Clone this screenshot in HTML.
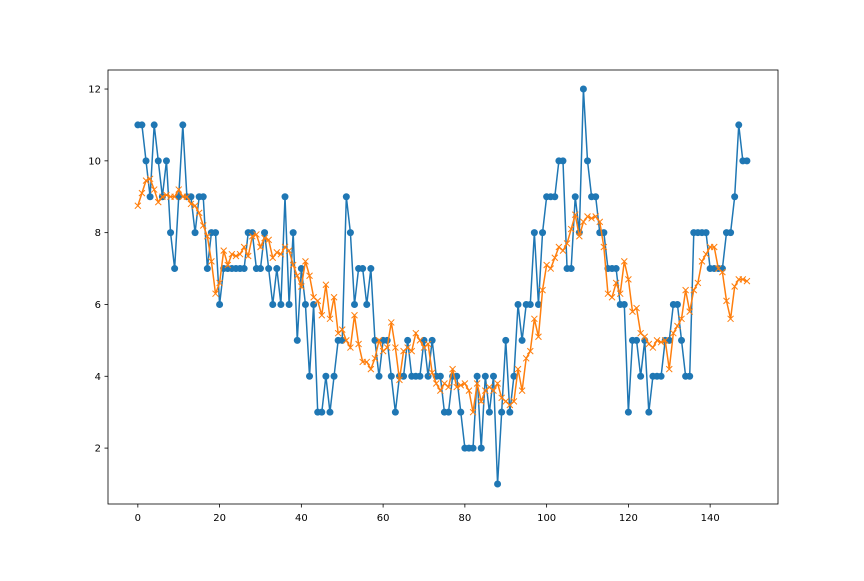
<!DOCTYPE html>
<html><head><meta charset="utf-8"><style>body{margin:0;background:#fff}svg text{font-family:"DejaVu Sans","Liberation Sans",sans-serif;font-size:10px;fill:#000}</style></head>
<body>
<svg id="chart" width="864" height="576" xmlns="http://www.w3.org/2000/svg">
<rect width="864" height="576" fill="#fff"/>
<g id="plot"></g>
</svg>
<script>
const seriesA=[11,11,10,9,11,10,9,10,8,7,9,11,9,9,8,9,9,7,8,8,6,7,7,7,7,7,7,8,8,7,7,8,7,6,7,6,9,6,8,5,7,6,4,6,3,3,4,3,4,5,5,9,8,6,7,7,6,7,5,4,5,5,4,3,4,4,5,4,4,4,5,4,5,4,4,3,3,4,4,3,2,2,2,4,2,4,3,4,1,3,5,3,4,6,5,6,6,8,6,8,9,9,9,10,10,7,7,9,8,12,10,9,9,8,8,7,7,7,6,6,3,5,5,4,5,3,4,4,4,5,5,6,6,5,4,4,8,8,8,8,7,7,7,7,8,8,9,11,10,10];
const seriesB=[8.75,9.1,9.45,9.5,9.2,8.85,9.0,9.05,9.0,9.0,9.2,9.0,9.0,8.8,8.75,8.55,8.2,7.9,7.2,6.3,6.6,7.5,7.1,7.4,7.35,7.4,7.6,7.35,7.9,7.95,7.6,7.85,7.8,7.3,7.45,7.4,7.6,7.5,7.1,6.8,6.5,7.2,6.8,6.2,6.1,5.7,6.55,5.6,6.2,5.2,5.3,5.0,4.8,5.7,4.9,4.4,4.4,4.2,4.5,5.0,4.7,4.8,5.5,4.8,3.9,4.7,4.8,4.7,5.2,5.0,4.8,4.9,4.1,3.8,3.6,3.8,3.7,4.2,3.7,3.75,3.8,3.6,3.0,3.8,3.3,3.6,3.7,3.6,3.8,3.4,3.3,3.2,3.3,4.2,3.6,4.5,4.7,5.6,5.1,6.4,7.1,7.0,7.3,7.6,7.5,7.7,8.1,8.5,7.9,8.3,8.45,8.4,8.45,8.3,7.6,6.3,6.2,6.6,6.3,7.2,6.7,5.8,5.9,5.2,5.1,4.9,4.8,5.0,4.95,5.0,4.2,5.2,5.4,5.6,6.4,5.8,6.4,6.6,7.2,7.4,7.6,7.6,7.0,6.9,6.1,5.6,6.5,6.7,6.7,6.65];
const xTicks=[0,20,40,60,80,100,120,140];
const yTicks=[2,4,6,8,10,12];
const L=108,R=778,T=70,B=504;
const x0=-7.3,x1=156.6,y0=0.443,y1=12.53;
const sx=v=>L+(v-x0)/(x1-x0)*(R-L);
const sy=v=>B-(v-y0)/(y1-y0)*(B-T);
const NS='http://www.w3.org/2000/svg';
const g=document.getElementById('plot');
function mk(t,a){const e=document.createElementNS(NS,t);for(const k in a)e.setAttribute(k,a[k]);g.appendChild(e);return e;}
let ax=mk('rect',{x:L,y:T,width:R-L,height:B-T,fill:'none',stroke:'#000','stroke-width':0.8});


xTicks.forEach(v=>{const l=mk('line',{x1:sx(v),x2:sx(v),y1:B,y2:B+3.5,stroke:'#000','stroke-width':0.8});


const t=mk('text',{x:sx(v),y:B+17,'text-anchor':'middle'});t.textContent=v;

});
yTicks.forEach(v=>{const l=mk('line',{x1:L-3.5,x2:L,y1:sy(v),y2:sy(v),stroke:'#000','stroke-width':0.8});


const t=mk('text',{x:L-7,y:sy(v)+3.5,'text-anchor':'end'});t.textContent=v;

});
const pa=seriesA.map((v,i)=>sx(i)+','+sy(v)).join(' ');
let la=mk('polyline',{points:pa,fill:'none',stroke:'#1f77b4','stroke-width':1.5});


seriesA.forEach((v,i)=>{const c=mk('circle',{cx:sx(i),cy:sy(v),r:3.5,fill:'#1f77b4'});

});
const pb=seriesB.map((v,i)=>sx(i)+','+sy(v)).join(' ');
let lb=mk('polyline',{points:pb,fill:'none',stroke:'#ff7f0e','stroke-width':1.5});


seriesB.forEach((v,i)=>{const X=sx(i),Y=sy(v),d=3;const p=mk('path',{d:`M${X-d},${Y-d}L${X+d},${Y+d}M${X-d},${Y+d}L${X+d},${Y-d}`,stroke:'#ff7f0e','stroke-width':1});

});
</script>
</body></html>
